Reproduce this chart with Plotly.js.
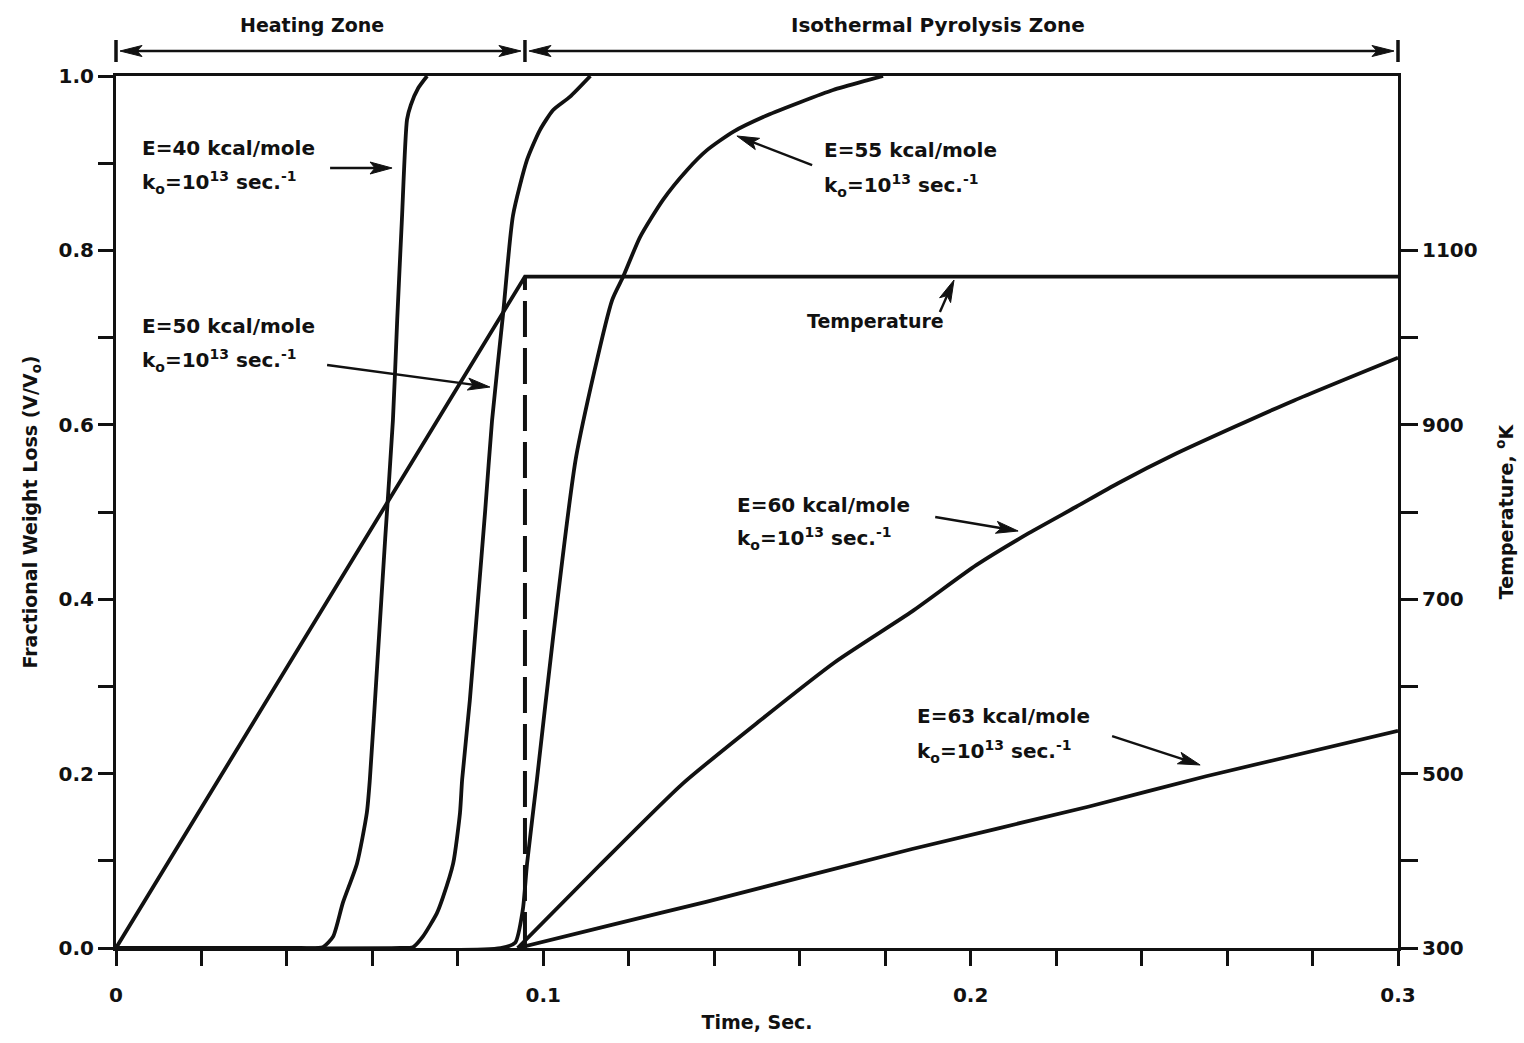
<!DOCTYPE html>
<html>
<head>
<meta charset="utf-8">
<script src="https://cdn.plot.ly/plotly-3.0.1.min.js"></script>
<style>
  html, body { margin: 0; padding: 0; background: #fff; }
  #chart { width: 1524px; height: 1043px; }
</style>
</head>
<body>
<div id="chart"></div>
<script>
// Fractional weight loss V/V0 versus time for several activation energies
// (k0 = 1e13 1/s), with the imposed temperature history on the right axis.

const t_E40 = [0, 0.043, 0.0484, 0.0508, 0.0531, 0.0564, 0.0587, 0.0594, 0.0612, 0.0630, 0.0648, 0.0658, 0.0669, 0.0681, 0.0690, 0.0707, 0.0728];
const v_E40 = [0, 0, 0.001, 0.013, 0.052, 0.097, 0.155, 0.193, 0.33, 0.47, 0.605, 0.72, 0.835, 0.95, 0.967, 0.986, 1.0];

const t_E50 = [0, 0.0665, 0.0695, 0.0718, 0.0751, 0.0765, 0.0789, 0.0805, 0.0810, 0.0828, 0.0847, 0.0864, 0.0880, 0.0906, 0.0929, 0.0962, 0.0992, 0.1023, 0.1062, 0.1110];
const v_E50 = [0, 0, 0.001, 0.013, 0.040, 0.058, 0.097, 0.155, 0.193, 0.284, 0.399, 0.502, 0.605, 0.728, 0.840, 0.904, 0.938, 0.961, 0.976, 1.0];

const t_E55 = [0, 0.0900, 0.0934, 0.0952, 0.0962, 0.0985, 0.1023, 0.1077, 0.1161, 0.1187, 0.1226, 0.1280, 0.1336, 0.1383, 0.1444, 0.1524, 0.1601, 0.1678, 0.1757, 0.1795];
const v_E55 = [0, 0, 0.006, 0.044, 0.097, 0.193, 0.357, 0.564, 0.743, 0.770, 0.815, 0.858, 0.892, 0.915, 0.936, 0.955, 0.970, 0.984, 0.995, 1.0];

const t_E60 = [0.0940, 0.1130, 0.1325, 0.1505, 0.1683, 0.1863, 0.2013, 0.2137, 0.2247, 0.2345, 0.2481, 0.2619, 0.2757, 0.3000];
const v_E60 = [0, 0.094, 0.188, 0.260, 0.328, 0.386, 0.439, 0.476, 0.506, 0.533, 0.567, 0.598, 0.628, 0.677];

const t_E63 = [0.0940, 0.1160, 0.1381, 0.1863, 0.2275, 0.2551, 0.3000];
const v_E63 = [0, 0.0265, 0.053, 0.1135, 0.162, 0.197, 0.249];

// Temperature history: linear heating, then isothermal hold
const t_temp = [0, 0.0957, 0.3];
const T_temp = [300, 1070, 1070];
const t_switch = [0.0957, 0.0957];
const T_switch = [300, 1070];

// Tick positions and labels
const xTickVals = [0, 0.1, 0.2, 0.3];
const xTickText = ['0', '0.1', '0.2', '0.3'];
const yTickVals = [0, 0.2, 0.4, 0.6, 0.8, 1.0];
const yTickText = ['0.0', '0.2', '0.4', '0.6', '0.8', '1.0'];
const y2TickVals = [300, 500, 700, 900, 1100];
const y2TickText = ['300', '500', '700', '900', '1100'];
const y2MinorVals = [400, 600, 800, 1000];

// Zone boundaries along the time axis
const zoneEdges = [0, 0.0957, 0.3];
const zoneNames = ['Heating Zone', 'Isothermal Pyrolysis Zone'];

const INK = '#111';
const FONT = '"DejaVu Sans", Verdana, sans-serif';
const XMAX = 0.3, T0 = 300, T1 = 1300;
const W = 1524, H = 1043, ML = 116, MR = 126, MT = 76, MB = 95;
const plotW = W - ML - MR, plotH = H - MT - MB;

function curve(t, v, name) {
  return { x: t, y: v, name: name, type: 'scatter', mode: 'lines',
           line: { color: INK, width: 3.8, shape: 'spline', smoothing: 0.6 }, hoverinfo: 'skip' };
}

const traces = [
  curve(t_E40, v_E40, 'E=40'),
  curve(t_E50, v_E50, 'E=50'),
  curve(t_E55, v_E55, 'E=55'),
  curve(t_E60, v_E60, 'E=60'),
  curve(t_E63, v_E63, 'E=63'),
  { x: t_temp, y: T_temp, yaxis: 'y2', name: 'Temperature', type: 'scatter', mode: 'lines',
    line: { color: INK, width: 3.8 }, hoverinfo: 'skip' },
  { x: t_switch, y: T_switch, yaxis: 'y2', name: 'switch', type: 'scatter', mode: 'lines',
    line: { color: INK, width: 4, dash: '36px,11px' }, hoverinfo: 'skip' }
];

// Curve labels: two lines of text each
const labelFont = { family: FONT, size: 20, color: INK, weight: 'bold' };
const k0Line = 'k<sub>o</sub>=10<sup>13</sup> sec.<sup>-1</sup>';
const labels = [
  { e: 'E=40 kcal/mole', x: 0.0056, y: 0.917, y2: 0.878 },
  { e: 'E=50 kcal/mole', x: 0.0056, y: 0.713, y2: 0.674 },
  { e: 'E=55 kcal/mole', x: 0.1652, y: 0.915, y2: 0.875 },
  { e: 'E=60 kcal/mole', x: 0.1448, y: 0.508, y2: 0.470 },
  { e: 'E=63 kcal/mole', x: 0.1870, y: 0.266, y2: 0.225 }
];
const annotations = [];
labels.forEach(function (l) {
  annotations.push({ x: l.x, y: l.y, xref: 'x', yref: 'y', text: l.e, showarrow: false,
                     xanchor: 'left', yanchor: 'middle', font: labelFont });
  annotations.push({ x: l.x, y: l.y2, xref: 'x', yref: 'y', text: k0Line, showarrow: false,
                     xanchor: 'left', yanchor: 'middle', font: labelFont });
});
annotations.push({ x: 0.1777, y: 0.719, xref: 'x', yref: 'y', text: 'Temperature', showarrow: false,
                   xanchor: 'center', yanchor: 'middle', font: { family: FONT, size: 19, color: INK, weight: 'bold' } });

const shapes = [];

// Filled arrowhead path; tip and direction given in pixel space, converted back by fx/fy
function headPath(tipX, tipY, dirX, dirY, len, half, notch, fx, fy) {
  const n = Math.hypot(dirX, dirY), ux = dirX / n, uy = dirY / n;   // unit vector pointing to tip
  const px = -uy, py = ux;
  const bx = tipX - ux * len, by = tipY - uy * len;
  const nx = tipX - ux * (len - notch), ny = tipY - uy * (len - notch);
  const pts = [[tipX, tipY], [bx + px * half, by + py * half], [nx, ny], [bx - px * half, by - py * half]];
  return 'M' + pts.map(function (p) { return fx(p[0]) + ',' + fy(p[1]); }).join(' L') + ' Z';
}

// Pointer arrows from labels to curves: [tail t, tail v, head t, head v]
const pointers = [
  [0.0501, 0.8945, 0.0646, 0.8945],
  [0.0494, 0.6686, 0.0875, 0.6433],
  [0.1629, 0.8979, 0.1453, 0.9312],
  [0.1928, 0.7294, 0.1961, 0.7660],
  [0.1917, 0.4943, 0.2111, 0.4782],
  [0.2331, 0.2431, 0.2537, 0.2099]
];
const toPxX = function (t) { return t / XMAX * plotW; };
const toPxY = function (v) { return -v * plotH; };
const fromPxX = function (p) { return p / plotW * XMAX; };
const fromPxY = function (p) { return -p / plotH; };
pointers.forEach(function (p) {
  const tx = toPxX(p[0]), ty = toPxY(p[1]), hx = toPxX(p[2]), hy = toPxY(p[3]);
  const dx = hx - tx, dy = hy - ty, n = Math.hypot(dx, dy);
  const ex = hx - dx / n * 12, ey = hy - dy / n * 12;
  shapes.push({ type: 'line', xref: 'x', yref: 'y', x0: p[0], y0: p[1], x1: fromPxX(ex), y1: fromPxY(ey),
                line: { color: INK, width: 2.4 } });
  shapes.push({ type: 'path', xref: 'x', yref: 'y', path: headPath(hx, hy, dx, dy, 22, 6, 5, fromPxX, fromPxY),
                fillcolor: INK, line: { color: INK, width: 1 } });
});

// Zone markers above the plot: end bars, double-headed span arrows and titles
const yLinePx = -(MT - 51) - plotH;          // pixel y of span line relative to plot bottom
const paperX = function (p) { return p / plotW; };
const paperY = function (p) { return -p / plotH; };
zoneEdges.forEach(function (t) {
  const x = t / XMAX;
  shapes.push({ type: 'line', xref: 'paper', yref: 'paper', x0: x, x1: x, y0: paperY(yLinePx + 11), y1: paperY(yLinePx - 11),
                line: { color: INK, width: 3.5 } });
});
for (let i = 0; i < zoneNames.length; i++) {
  const a = toPxX(zoneEdges[i]) + 4, b = toPxX(zoneEdges[i + 1]) - 4;
  shapes.push({ type: 'line', xref: 'paper', yref: 'paper', x0: paperX(a + 10), x1: paperX(b - 10),
                y0: paperY(yLinePx), y1: paperY(yLinePx), line: { color: INK, width: 2.5 } });
  shapes.push({ type: 'path', xref: 'paper', yref: 'paper', path: headPath(a, yLinePx, -1, 0, 22, 5.5, 5, paperX, paperY),
                fillcolor: INK, line: { color: INK, width: 1 } });
  shapes.push({ type: 'path', xref: 'paper', yref: 'paper', path: headPath(b, yLinePx, 1, 0, 22, 5.5, 5, paperX, paperY),
                fillcolor: INK, line: { color: INK, width: 1 } });
}
const zoneFont = { family: FONT, size: 19, color: INK, weight: 'bold' };
annotations.push({ x: 0.1527, y: 1.058, xref: 'paper', yref: 'paper', text: zoneNames[0], showarrow: false,
                   xanchor: 'center', yanchor: 'middle', font: zoneFont });
annotations.push({ x: 0.6415, y: 1.058, xref: 'paper', yref: 'paper', text: zoneNames[1], showarrow: false,
                   xanchor: 'center', yanchor: 'middle', font: { family: FONT, size: 20, color: INK, weight: 'bold' } });

const tickFont = { family: FONT, size: 20, color: INK, weight: 'bold' };
const titleFont = { family: FONT, size: 19, color: INK, weight: 'bold' };
const tickStyle = { ticks: 'outside', tickwidth: 3, tickcolor: INK };

const layout = {
  width: W, height: H,
  margin: { l: ML, r: MR, t: MT, b: MB },
  paper_bgcolor: '#fff', plot_bgcolor: '#fff',
  showlegend: false,
  xaxis: Object.assign({
    range: [0, XMAX], tickmode: 'array', tickvals: xTickVals, ticktext: xTickText,
    ticklen: 15, ticklabelstandoff: 12,
    minor: { tick0: 0, dtick: 0.02, ticks: 'outside', ticklen: 15, tickwidth: 3, tickcolor: INK },
    showline: true, linewidth: 3, linecolor: INK, mirror: true,
    showgrid: false, zeroline: false, tickfont: tickFont,
    title: { text: 'Time, Sec.', font: titleFont, standoff: 10 }
  }, tickStyle),
  yaxis: Object.assign({
    range: [0, 1], tickmode: 'array', tickvals: yTickVals, ticktext: yTickText,
    ticklen: 15, ticklabelstandoff: 0,
    minor: { tick0: 0, dtick: 0.1, ticks: 'outside', ticklen: 15, tickwidth: 3, tickcolor: INK },
    showline: true, linewidth: 3, linecolor: INK,
    showgrid: false, zeroline: false, tickfont: tickFont,
    title: { text: 'Fractional Weight Loss (V/V<sub>o</sub>)', font: titleFont, standoff: 16 }
  }, tickStyle),
  yaxis2: Object.assign({
    range: [T0, T1], overlaying: 'y', side: 'right', tickmode: 'array', tickvals: y2TickVals, ticktext: y2TickText,
    ticklen: 17, ticklabelstandoff: 0,
    minor: { tickmode: 'array', tickvals: y2MinorVals, ticks: 'outside', ticklen: 17, tickwidth: 3, tickcolor: INK },
    showline: true, linewidth: 3, linecolor: INK,
    showgrid: false, zeroline: false, tickfont: tickFont,
    title: { text: 'Temperature, <sup>o</sup>K', font: titleFont, standoff: 24 }
  }, tickStyle),
  shapes: shapes,
  annotations: annotations
};

Plotly.newPlot('chart', traces, layout, { displayModeBar: false, staticPlot: true });
</script>
</body>
</html>
